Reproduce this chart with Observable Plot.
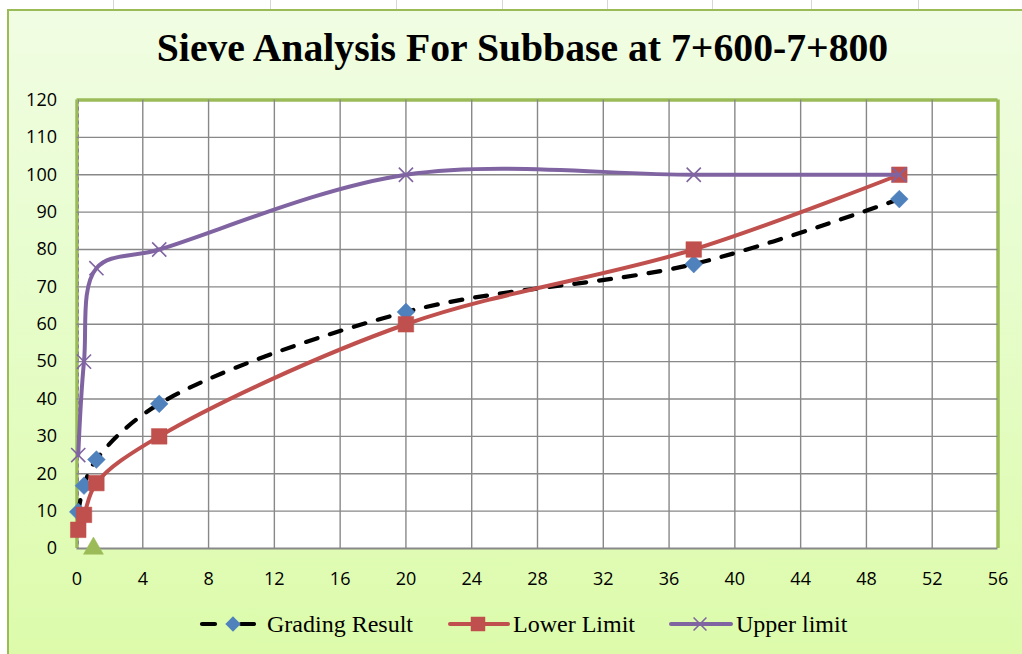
<!DOCTYPE html>
<html>
<head>
<meta charset="utf-8">
<script src="https://cdn.jsdelivr.net/npm/d3@7"></script>
<script src="https://cdn.jsdelivr.net/npm/@observablehq/plot@0.6"></script>
<style>
  html, body { margin: 0; padding: 0; background: #fff; }
  #page { position: relative; width: 1022px; height: 654px; overflow: hidden; background: #fff; }
  .cell { position: absolute; top: 0; width: 1px; height: 10px; background: #d6d6d6; }
  #panel {
    position: absolute; left: 7px; top: 9px; width: 1030px; height: 660px;
    box-sizing: border-box;
    border-left: 2px solid #9bbb59; border-top: 2px solid #9bbb59;
    background: linear-gradient(to bottom, #f1fde3 0%, #e8fdd0 35%, #dcfba9 100%);
  }
  #chart { position: absolute; left: 0; top: 80px; }
  #overlay { position: absolute; left: 0; top: 0; pointer-events: none; }
</style>
</head>
<body>
<div id="page">
  <div class="cell" style="left:113px"></div>
  <div class="cell" style="left:270px"></div>
  <div class="cell" style="left:396px"></div>
  <div class="cell" style="left:502px"></div>
  <div class="cell" style="left:607px"></div>
  <div class="cell" style="left:712px"></div>
  <div class="cell" style="left:811px"></div>
  <div class="cell" style="left:918px"></div>
  <div id="panel"></div>
  <div id="chart"></div>
  <svg id="overlay" width="1022" height="654"></svg>
</div>
<script>
// Sieve sizes (mm) and percent passing for each series
const sieve = [0.075, 0.425, 1.18, 5, 20, 37.5, 50];
const gradingResult = [9.8, 16.8, 23.8, 38.7, 63.3, 76.1, 93.5];
const lowerLimit = [5, 9, 17.5, 30, 60, 80, 100];
const upperLimit = [25, 50, 75, 80, 100, 100, 100];
// Single extra point plotted as a green triangle
const extraX = [1.0];
const extraY = [0];

const xTicks = [0, 4, 8, 12, 16, 20, 24, 28, 32, 36, 40, 44, 48, 52, 56];
const yTicks = [0, 10, 20, 30, 40, 50, 60, 70, 80, 90, 100, 110, 120];

const title = "Sieve Analysis For Subbase at 7+600-7+800";
const seriesNames = ["Grading Result", "Lower Limit", "Upper limit"];

const COLORS = {
  grading: "#000000",
  gradingMarker: "#4f81bd",
  lower: "#c0504d",
  upper: "#8064a2",
  extra: "#9bbb59",
  grid: "#888888",
  frame: "#9bbb59"
};

const toRows = (ys) => sieve.map((x, i) => ({x, y: ys[i]}));
const gradingRows = toRows(gradingResult);
const lowerRows = toRows(lowerLimit);
const upperRows = toRows(upperLimit);
const extraRows = extraX.map((x, i) => ({x, y: extraY[i]}));

const chart = Plot.plot({
  width: 1022,
  height: 530,
  marginLeft: 76.5,
  marginRight: 24.5,
  marginTop: 19.5,
  marginBottom: 62,
  style: {background: "transparent", fontFamily: "'Open Sans', sans-serif", fontSize: "18px", color: "#000", overflow: "visible"},
  x: {domain: [0, 56], ticks: xTicks, tickSize: 0, tickPadding: 24, label: null, tickFormat: d => String(d)},
  y: {domain: [0, 120], ticks: yTicks, tickSize: 0, tickPadding: 20, label: null, tickFormat: d => String(d)},
  marks: [
    Plot.frame({fill: "white", stroke: null}),
    // plot-area border
    Plot.ruleY([120], {stroke: COLORS.frame, strokeWidth: 3.5}),
    Plot.ruleX([56], {stroke: COLORS.frame, strokeWidth: 3.5}),
    Plot.ruleX([0], {stroke: COLORS.frame, strokeWidth: 3.5}),
    // grid
    Plot.ruleX(xTicks.filter(d => d > 0 && d < 56), {stroke: COLORS.grid, strokeWidth: 1.4}),
    Plot.ruleY(yTicks.filter(d => d > 0 && d < 120), {stroke: COLORS.grid, strokeWidth: 1.4}),
    Plot.ruleX([0], {stroke: COLORS.grid, strokeWidth: 1, strokeDasharray: "4,3", dx: 1.5}),
    Plot.ruleY([0], {stroke: COLORS.grid, strokeWidth: 2}),
    // Grading Result
    Plot.line(gradingRows, {x: "x", y: "y", curve: "catmull-rom", stroke: COLORS.grading, strokeWidth: 4.2, strokeDasharray: "12,13", strokeLinecap: "round"}),
    Plot.dot(gradingRows, {x: "x", y: "y", symbol: "diamond2", r: 8, fill: COLORS.gradingMarker, stroke: COLORS.gradingMarker, strokeWidth: 0.5}),
    // Lower Limit
    Plot.line(lowerRows, {x: "x", y: "y", curve: "catmull-rom", stroke: COLORS.lower, strokeWidth: 4}),
    Plot.dot(lowerRows, {x: "x", y: "y", symbol: "square", r: 8.8, fill: COLORS.lower, stroke: COLORS.lower, strokeWidth: 0.5}),
    // Upper limit
    Plot.line(upperRows, {x: "x", y: "y", curve: "catmull-rom", stroke: COLORS.upper, strokeWidth: 4}),
    Plot.dot(upperRows, {x: "x", y: "y", symbol: "times", r: 6.5, stroke: COLORS.upper, strokeWidth: 1.6}),
    // extra point
    Plot.dot(extraRows, {x: "x", y: "y", symbol: "triangle", r: 7.4, fill: COLORS.extra, stroke: COLORS.extra, strokeWidth: 0.5})
  ]
});
document.getElementById("chart").appendChild(chart);

// Title and legend
const overlay = d3.select("#overlay");
overlay.append("text")
  .attr("x", 522.5).attr("y", 61)
  .attr("text-anchor", "middle")
  .attr("font-family", "'Liberation Serif', 'Times New Roman', serif")
  .attr("font-weight", "bold")
  .attr("font-size", 39.7)
  .attr("fill", "#000")
  .text(title);

const legendY = 624;
const legendItems = [
  {name: seriesNames[0], x0: 202, x1: 254, mx: 233, tx: 267, color: COLORS.grading, marker: "diamond"},
  {name: seriesNames[1], x0: 450, x1: 508, mx: 478, tx: 513, color: COLORS.lower, marker: "square"},
  {name: seriesNames[2], x0: 671, x1: 731, mx: 700, tx: 736, color: COLORS.upper, marker: "times"}
];
const lg = overlay.append("g");
for (const it of legendItems) {
  if (it.marker === "diamond") {
    lg.append("line").attr("x1", it.x0).attr("x2", it.x0 + 13).attr("y1", legendY).attr("y2", legendY)
      .attr("stroke", it.color).attr("stroke-width", 4.2).attr("stroke-linecap", "round");
    lg.append("line").attr("x1", it.x1 - 13).attr("x2", it.x1).attr("y1", legendY).attr("y2", legendY)
      .attr("stroke", it.color).attr("stroke-width", 4.2).attr("stroke-linecap", "round");
    lg.append("path").attr("d", d3.symbol(d3.symbolDiamond2, 150)()).attr("transform", `translate(${it.mx},${legendY})`)
      .attr("fill", COLORS.gradingMarker);
  } else if (it.marker === "square") {
    lg.append("line").attr("x1", it.x0).attr("x2", it.x1).attr("y1", legendY).attr("y2", legendY)
      .attr("stroke", it.color).attr("stroke-width", 4).attr("stroke-linecap", "round");
    lg.append("path").attr("d", d3.symbol(d3.symbolSquare, 210)()).attr("transform", `translate(${it.mx},${legendY})`)
      .attr("fill", it.color);
  } else {
    lg.append("line").attr("x1", it.x0).attr("x2", it.x1).attr("y1", legendY).attr("y2", legendY)
      .attr("stroke", it.color).attr("stroke-width", 4).attr("stroke-linecap", "round");
    lg.append("path").attr("d", d3.symbol(d3.symbolTimes, 110)()).attr("transform", `translate(${it.mx},${legendY})`)
      .attr("fill", "none").attr("stroke", it.color).attr("stroke-width", 1.6);
  }
  lg.append("text").attr("x", it.tx).attr("y", legendY + 8)
    .attr("font-family", "'Liberation Serif', 'Times New Roman', serif")
    .attr("font-size", 24).attr("fill", "#000").text(it.name);
}
</script>
</body>
</html>
